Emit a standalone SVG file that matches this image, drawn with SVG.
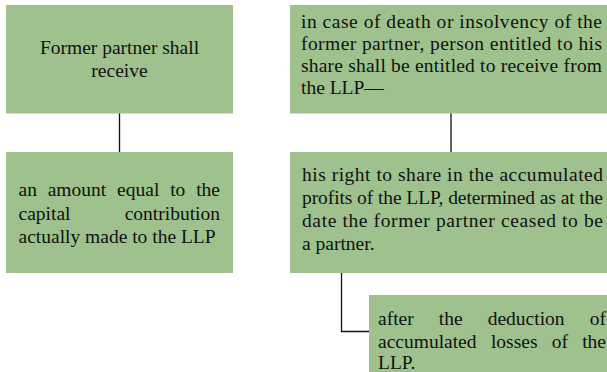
<svg xmlns="http://www.w3.org/2000/svg" width="607" height="372" viewBox="0 0 607 372">
<style>
.box{fill:#9EC18E;stroke:none}
.t{font-family:'Liberation Serif','Times New Roman',serif;font-size:19.5px;fill:#111}
.c{stroke:#111;stroke-width:1.3;fill:none}
</style>
<rect x="0" y="0" width="607" height="372" fill="#fff"/>
<g id="connectors">
<line class="c" x1="119.5" y1="113" x2="119.5" y2="152"/>
<line class="c" x1="451" y1="113" x2="451" y2="152"/>
<path class="c" d="M341.5,273 V331.5 H369"/>
</g>
<g id="node1">
<rect class="box" x="6" y="5" width="227" height="108.5"/>
<text class="t" x="119.5" y="53.5" text-anchor="middle">Former partner shall</text>
<text class="t" x="119.5" y="77" text-anchor="middle">receive</text>
</g>
<g id="node2">
<rect class="box" x="6" y="152" width="227" height="121"/>
<text class="t" y="196"><tspan x="18.5">an</tspan><tspan x="47.7">amount</tspan><tspan x="117.1">equal</tspan><tspan x="170.2">to</tspan><tspan x="220" text-anchor="end">the</tspan></text>
<text class="t" y="219.5"><tspan x="18.5">capital</tspan><tspan x="220" text-anchor="end">contribution</tspan></text>
<text class="t" x="18.5" y="243">actually made to the LLP</text>
</g>
<g id="node3">
<rect class="box" x="290" y="5" width="317" height="108.5"/>
<text class="t" x="301" y="27.7" textLength="301" lengthAdjust="spacing">in case of death or insolvency of the</text>
<text class="t" x="301" y="50" textLength="301" lengthAdjust="spacing">former partner, person entitled to his</text>
<text class="t" x="301" y="72" textLength="301" lengthAdjust="spacing">share shall be entitled to receive from</text>
<text class="t" x="301" y="94.3">the LLP—</text>
</g>
<g id="node4">
<rect class="box" x="290" y="152" width="317" height="121"/>
<text class="t" x="302" y="181.3" textLength="301" lengthAdjust="spacing">his right to share in the accumulated</text>
<text class="t" x="302" y="204.3" textLength="301" lengthAdjust="spacing">profits of the LLP, determined as at the</text>
<text class="t" x="302" y="227" textLength="301" lengthAdjust="spacing">date the former partner ceased to be</text>
<text class="t" x="302" y="249.5">a partner.</text>
</g>
<g id="node5">
<rect class="box" x="369" y="295" width="238" height="77"/>
<text class="t" y="325"><tspan x="378">after</tspan><tspan x="438.8">the</tspan><tspan x="487.7">deduction</tspan><tspan x="606" text-anchor="end">of</tspan></text>
<text class="t" y="347.5"><tspan x="378">accumulated</tspan><tspan x="490.9">losses</tspan><tspan x="551.8">of</tspan><tspan x="606" text-anchor="end">the</tspan></text>
<text class="t" x="378" y="368.5">LLP.</text>
</g>
</svg>
